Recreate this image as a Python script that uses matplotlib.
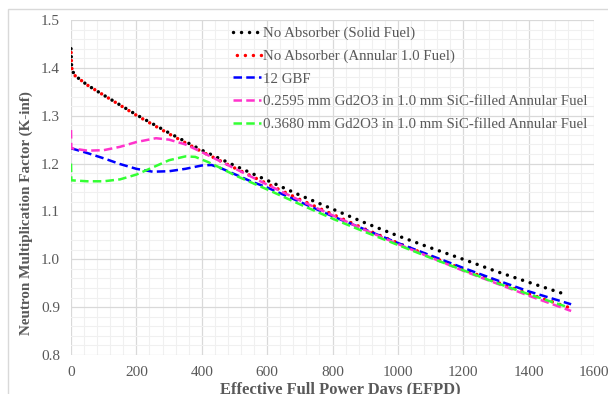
import matplotlib
matplotlib.use("Agg")
import matplotlib.pyplot as plt
from matplotlib.ticker import MultipleLocator, FormatStrFormatter
from matplotlib.patches import Rectangle

plt.rcParams['font.family'] = ['Liberation Serif', 'DejaVu Serif']

# Data (EFPD, K-inf)
x_solid = [0, 2, 10, 50, 100, 200, 300, 400, 500, 600, 700, 800, 900, 1000, 1100, 1200, 1300, 1400, 1520]
k_solid = [1.44, 1.40, 1.385, 1.364, 1.343, 1.302, 1.264, 1.228, 1.196, 1.165, 1.134, 1.105, 1.076, 1.049, 1.024, 1.000, 0.975, 0.952, 0.925]

x_annular = [0, 2, 10, 50, 100, 200, 300, 400, 500, 600, 700, 800, 900, 1000, 1100, 1200, 1300, 1400, 1520]
k_annular = [1.44, 1.40, 1.385, 1.364, 1.343, 1.301, 1.262, 1.225, 1.191, 1.158, 1.125, 1.094, 1.063, 1.034, 1.006, 0.979, 0.953, 0.928, 0.900]

x_gbf = [0, 50, 100, 150, 200, 250, 300, 350, 400, 430, 460, 500, 550, 600, 700, 800, 900, 1000, 1100, 1200, 1300, 1400, 1530]
k_gbf = [1.232, 1.222, 1.211, 1.199, 1.189, 1.183, 1.184, 1.189, 1.196, 1.197, 1.190, 1.178, 1.163, 1.150, 1.120, 1.090, 1.062, 1.034, 1.008, 0.982, 0.957, 0.933, 0.906]

x_gd1 = [0, 1, 50, 100, 150, 200, 260, 300, 350, 400, 450, 500, 600, 700, 800, 900, 1000, 1100, 1200, 1300, 1400, 1530]
k_gd1 = [1.27, 1.232, 1.227, 1.228, 1.235, 1.245, 1.253, 1.250, 1.240, 1.224, 1.207, 1.190, 1.156, 1.123, 1.092, 1.061, 1.032, 1.004, 0.976, 0.950, 0.924, 0.892]

x_gd2 = [0, 1, 50, 100, 150, 200, 250, 300, 350, 380, 420, 460, 500, 600, 700, 800, 900, 1000, 1100, 1200, 1300, 1400, 1520]
k_gd2 = [1.20, 1.165, 1.163, 1.163, 1.167, 1.177, 1.192, 1.207, 1.215, 1.214, 1.203, 1.190, 1.176, 1.146, 1.115, 1.085, 1.057, 1.030, 1.003, 0.977, 0.951, 0.927, 0.900]

labels = ["No Absorber (Solid Fuel)",
          "No Absorber (Annular 1.0 Fuel)",
          "12 GBF",
          "0.2595 mm Gd2O3 in 1.0 mm SiC-filled Annular Fuel",
          "0.3680 mm Gd2O3 in 1.0 mm SiC-filled Annular Fuel"]

fig = plt.figure(figsize=(6.08, 3.94), dpi=100)
ax = fig.add_axes([71/608, 1-355/394, (594-71)/608, (355-20)/394])

# light figure frame
fig.patches.append(Rectangle((8/608, -0.1), 1.2, 1-9/394+0.1, transform=fig.transFigure,
                             fill=False, edgecolor='#d9d9d9', linewidth=1.0))

dot = (0, (0.01, 2.3))
dash = (0, (3.4, 1.7))
ax.plot(x_solid, k_solid, color='black', linestyle=dot, linewidth=2.5,
        dash_capstyle='round', label=labels[0])
ax.plot(x_annular, k_annular, color='#ff0000', linestyle=(1.2, (0.01, 2.3)), linewidth=2.5,
        dash_capstyle='round', label=labels[1])
ax.plot(x_gbf, k_gbf, color='#0000ff', linestyle=dash, linewidth=1.8, label=labels[2])
ax.plot(x_gd1, k_gd1, color='#ff33cc', linestyle=dash, linewidth=1.8, label=labels[3])
ax.plot(x_gd2, k_gd2, color='#33ff33', linestyle=dash, linewidth=1.8, label=labels[4])

ax.set_xlim(0, 1600)
ax.set_ylim(0.8, 1.5)
ax.xaxis.set_major_locator(MultipleLocator(200))
ax.xaxis.set_minor_locator(MultipleLocator(40))
ax.yaxis.set_major_locator(MultipleLocator(0.1))
ax.yaxis.set_minor_locator(MultipleLocator(0.02))
ax.yaxis.set_major_formatter(FormatStrFormatter('%.1f'))
ax.grid(which='major', color='#d9d9d9', linewidth=0.9)
ax.grid(which='minor', color='#f0f0f0', linewidth=0.8)
ax.set_axisbelow(True)
for s in ax.spines.values():
    s.set_visible(False)
ax.tick_params(which='both', length=0, labelsize=11, colors='#595959', pad=8)

ax.set_ylabel("Neutron Multiplication Factor (K-inf)", fontsize=10.9, fontweight='bold',
              color='#595959')
ax.yaxis.set_label_coords((33-71)/523, (355-213)/335)
ax.set_xlabel("Effective Full Power Days (EFPD)", fontsize=11.9, fontweight='bold',
              color='#595959')
ax.xaxis.set_label_coords((340-71)/523, -(382-355)/335)

leg = ax.legend(loc='upper right', bbox_to_anchor=(1.005, 1.007), frameon=False, fontsize=10.7,
                handlelength=1.9, handletextpad=0.15, labelspacing=0.62, borderaxespad=0.2)
for t in leg.get_texts():
    t.set_color('#595959')

fig.savefig("out.png", dpi=100)
